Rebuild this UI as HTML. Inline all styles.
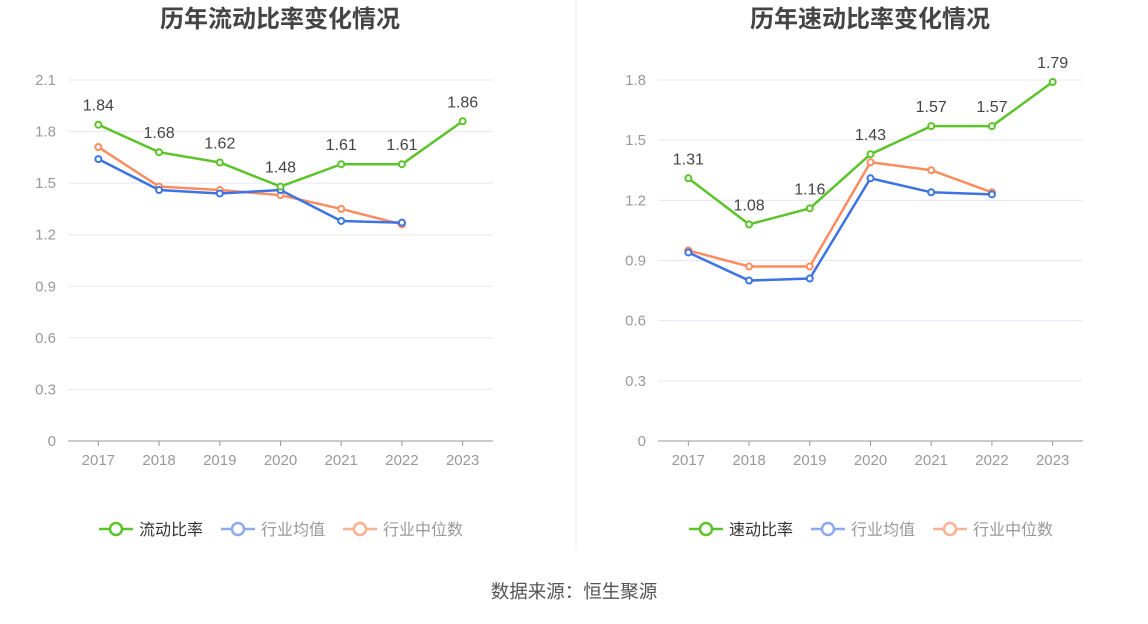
<!DOCTYPE html>
<html><head><meta charset="utf-8">
<style>
body{margin:0;background:#fff;font-family:"Liberation Sans","Noto Sans CJK SC",sans-serif;}
svg text{font-family:"Liberation Sans","Noto Sans CJK SC",sans-serif;}
</style></head>
<body>
<svg id="c" width="1148" height="619">
<line x1="576" y1="0" x2="576" y2="550" stroke="#eee"/>
<text x="574" y="598" text-anchor="middle" font-size="18.5" fill="#555">数据来源：恒生聚源</text>
</svg>
<script>
const years=['2017','2018','2019','2020','2021','2022','2023'];
const leftMain=[1.84,1.68,1.62,1.48,1.61,1.61,1.86];
const leftAvg=[1.64,1.46,1.44,1.46,1.28,1.27];
const leftMed=[1.71,1.48,1.46,1.43,1.35,1.26];
const leftTicks=[0,0.3,0.6,0.9,1.2,1.5,1.8,2.1];
const rightMain=[1.31,1.08,1.16,1.43,1.57,1.57,1.79];
const rightAvg=[0.94,0.80,0.81,1.31,1.24,1.23];
const rightMed=[0.95,0.87,0.87,1.39,1.35,1.24];
const rightTicks=[0,0.3,0.6,0.9,1.2,1.5,1.8];
const NS='http://www.w3.org/2000/svg';
const svg=document.getElementById('c');
function mk(t,a,p){const e=document.createElementNS(NS,t);for(const k in a)e.setAttribute(k,a[k]);(p||svg).appendChild(e);return e;}
function chart(ox,title,mainName,main,avg,med,ticks,pref){
  const g=mk('g',{});
  
  
  const x0=ox+68,x1=ox+493,y0=441,y1=80,maxV=ticks[ticks.length-1];
  const step=(x1-x0)/years.length;
  const X=i=>x0+step*(i+0.5);
  const Y=v=>y0-(v/maxV)*(y0-y1);
  const t=mk('text',{x:ox+280,y:27,'text-anchor':'middle','font-size':24,'font-weight':'bold',fill:'#444'},g);t.textContent=title;
  
  
  ticks.forEach(v=>{
    if(v>0){const l=mk('line',{x1:x0,x2:x1,y1:Y(v),y2:Y(v),stroke:'#e6e8f0'},g);
    
    }
    const tt=mk('text',{x:x0-12,y:Y(v)+5,'text-anchor':'end','font-size':15,fill:'#999'},g);tt.textContent=v===0?'0':v.toFixed(1);
    
    
  });
  const ax=mk('line',{x1:x0,x2:x1,y1:y0,y2:y0,stroke:'#999'},g);
  
  
  years.forEach((yr,i)=>{
    mk('line',{x1:X(i),x2:X(i),y1:y0,y2:y0+5,stroke:'#999'},g);
    const tt=mk('text',{x:X(i),y:y0+24,'text-anchor':'middle','font-size':15,fill:'#999'},g);tt.textContent=yr;
    
    
  });
  function series(arr,col,name,labels){
    const p=mk('polyline',{points:arr.map((v,i)=>X(i)+','+Y(v)).join(' '),fill:'none',stroke:col,'stroke-width':2.5},g);
    
    
    arr.forEach((v,i)=>{
      const c=mk('circle',{cx:X(i),cy:Y(v),r:3,fill:'#fff',stroke:col,'stroke-width':2},g);
      
      
      if(labels){const tl=mk('text',{x:X(i),y:Y(v)-14,'text-anchor':'middle','font-size':16,fill:'#444'},g);tl.textContent=v.toFixed(2);
      
      }
    });
  }
  series(med,'#fb8c5f','industry-median');
  series(avg,'#3d74e3','industry-average');
  series(main,'#5cc42a','main-ratio',true);
  const leg=[[mainName,'#5cc42a','#333'],['行业均值','#8ea9ee','#999'],['行业中位数','#fbb193','#999']];
  let lx=ox+99;
  leg.forEach((L,k)=>{
    const lg=mk('g',{},g);
    
    
    mk('line',{x1:lx,x2:lx+34,y1:529,y2:529,stroke:L[1],'stroke-width':2.5},lg);
    mk('circle',{cx:lx+17,cy:529,r:6,fill:'#fff',stroke:L[1],'stroke-width':2.5},lg);
    const tx=mk('text',{x:lx+40,y:535,'font-size':16,fill:L[2]},lg);tx.textContent=L[0];
    lx+=40+L[0].length*16+18;
  });
}
chart(0,'历年流动比率变化情况','流动比率',leftMain,leftAvg,leftMed,leftTicks,'left');
chart(590,'历年速动比率变化情况','速动比率',rightMain,rightAvg,rightMed,rightTicks,'right');
</script>
</body></html>
